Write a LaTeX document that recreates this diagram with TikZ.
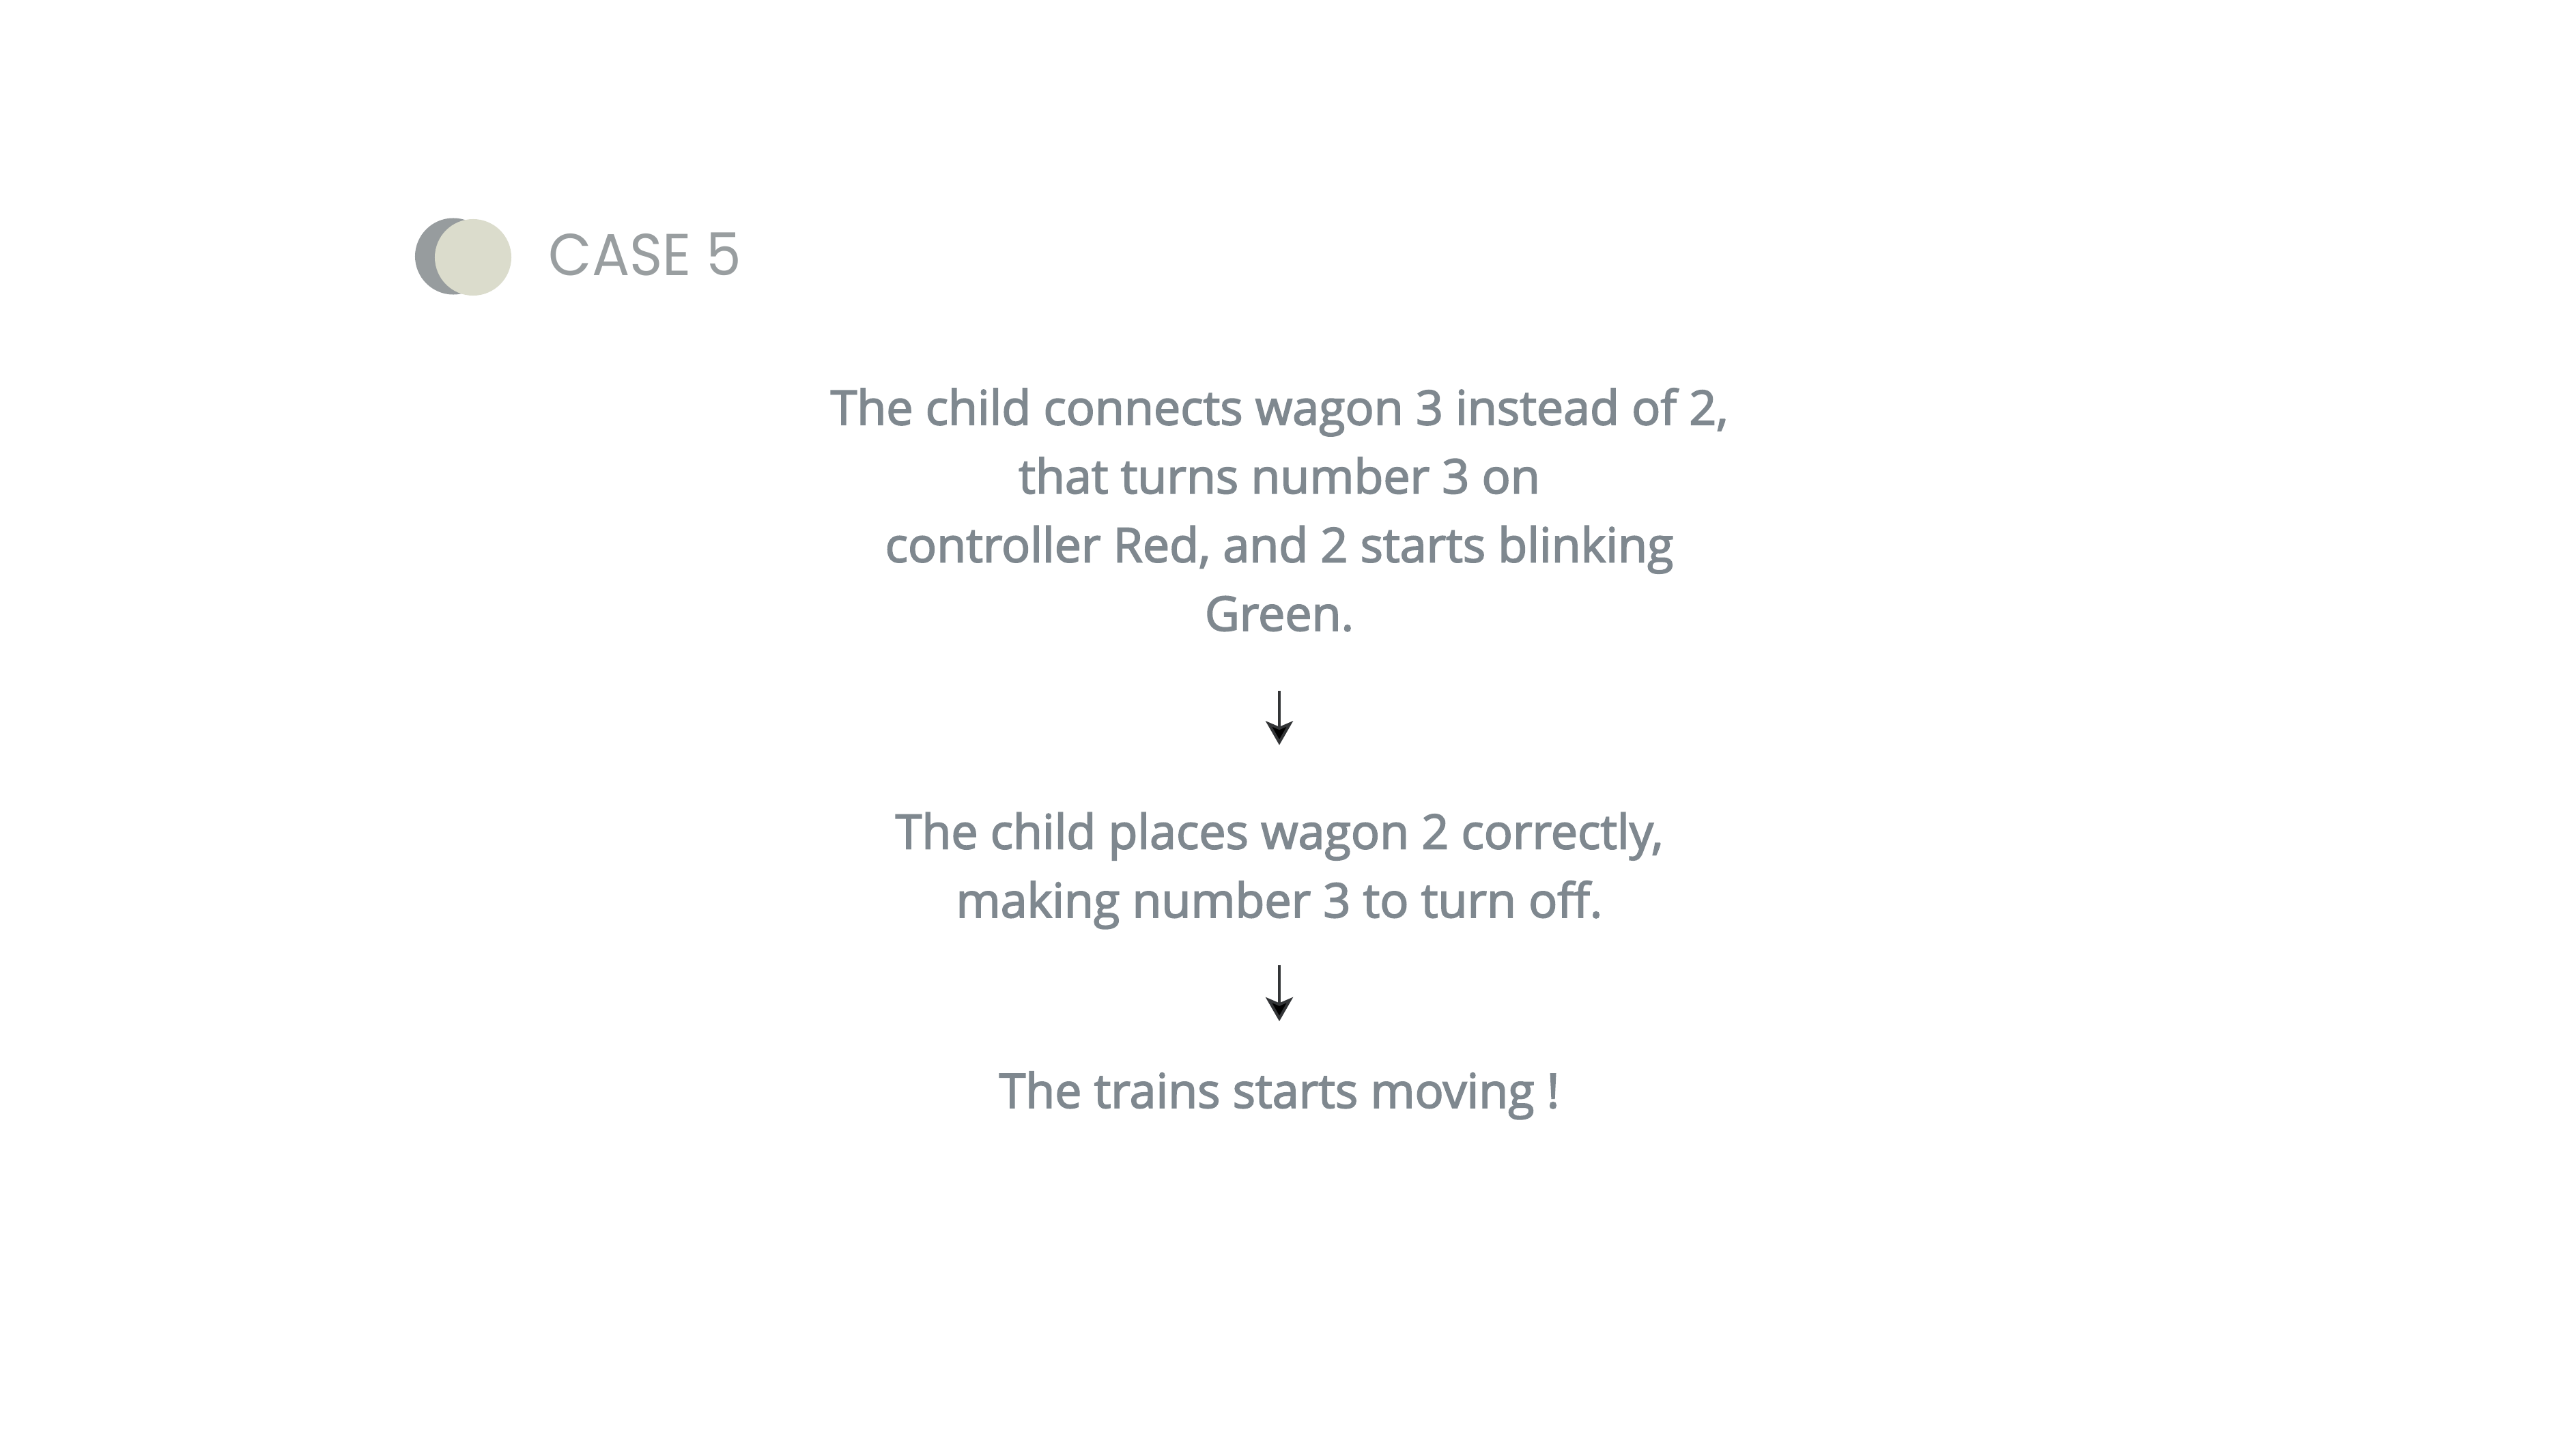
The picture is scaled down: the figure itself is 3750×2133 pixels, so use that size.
\documentclass[tikz,border=0pt]{standalone}
\usepackage{fontspec}
\setmainfont{Open Sans}[FakeBold=2.5]
\newfontfamily\casefont{Poppins}[FakeStretch=0.95]
\usepackage{tikz}
\usetikzlibrary{arrows.meta}
\definecolor{stepgray}{RGB}{127,136,143}
\definecolor{titlegray}{RGB}{153,158,160}
\definecolor{moondark}{RGB}{151,156,158}
\definecolor{moonlight}{RGB}{219,220,204}
\definecolor{arrowdark}{RGB}{51,53,55}

\begin{document}
\begin{tikzpicture}[x=0.01cm, y=-0.01cm,
                    step node/.style={align=center, inner sep=0pt, anchor=base,
                      text=stepgray, font=\fontsize{19.9pt}{28.6pt}\selectfont},
                    moon/.style={circle, inner sep=0pt, minimum size=1.12cm, fill=#1},
                    flow/.style={draw=arrowdark, line width=1.15pt,
                      -{Stealth[length=10pt, width=11.4pt, inset=2.4pt]}}]

  \useasboundingbox (0,0) rectangle (3750,2133);

  \node[moon=moondark] (a) at (664,375.5) {};
  \node[moon=moonlight] (b) at (693,377) {};
  \node[anchor=base west, inner sep=0pt, text=titlegray,
        font=\casefont\fontsize{24.6pt}{28pt}\selectfont] (t) at (803,403.3) {CASE 5};

  % base anchor sits on the last line
  \node[step node] (1) at (1874,924) {The child connects wagon 3 instead of 2,\\
    that turns number 3 on\\ controller Red, and 2 starts blinking\\ Green.};
  \node[step node] (2) at (1874,1344) {The child places wagon 2 correctly,\\
    making number 3 to turn off.};
  \node[step node] (3) at (1874,1623) {The trains starts moving !};

  \path[flow]
    (1) edge [shorten <=0.86cm, shorten >=0.98cm] (2)
    (2) edge [shorten <=0.52cm, shorten >=0.73cm] (3);
\end{tikzpicture}
\end{document}
